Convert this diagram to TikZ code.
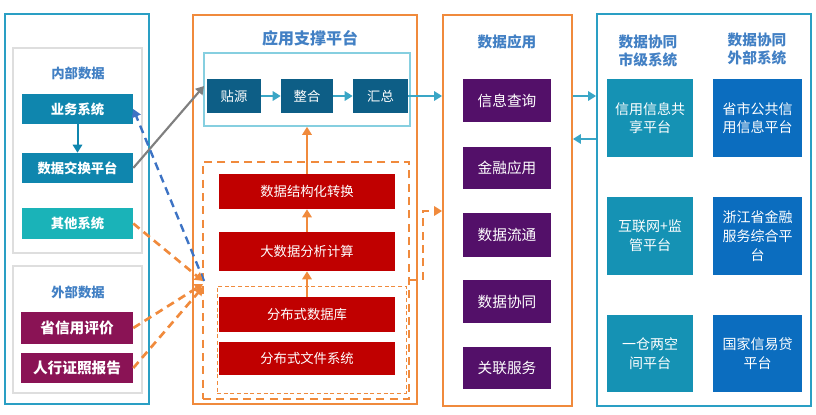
\documentclass[tikz,border=0pt]{standalone}
\usepackage{fontspec}
\setmainfont{Noto Sans CJK SC}
\usetikzlibrary{arrows.meta}
\definecolor{panelteal}{HTML}{2A9FC4}
\definecolor{orng}{HTML}{F08A3C}
\definecolor{grayb}{HTML}{DEDEDE}
\definecolor{titleblue}{HTML}{4280C4}
\definecolor{bizblue}{HTML}{0F86AE}
\definecolor{othersys}{HTML}{1AB3B8}
\definecolor{maroon}{HTML}{8A1355}
\definecolor{darkteal}{HTML}{0D5E86}
\definecolor{lightbb}{HTML}{86CFE0}
\definecolor{arrteal}{HTML}{3AA6C6}
\definecolor{redbox}{HTML}{C00000}
\definecolor{purp}{HTML}{531069}
\definecolor{rteal}{HTML}{1592B4}
\definecolor{rblue}{HTML}{0B6DBF}
\definecolor{grayarr}{HTML}{7F7F7F}
\definecolor{bluedash}{HTML}{3D73C4}
% \bx{name}{x1}{y1}{x2}{y2}{style}{text}
\newcommand\bx[7]{\node[#6, inner sep=0pt, minimum width={(#4-#2)*0.75pt}, minimum height={(#5-#3)*0.75pt}] (#1) at ({(#2+#4)/2},{(#3+#5)/2}) {#7};}
\tikzset{
  bx/.style={text=white, align=center, font=\fontsize{10}{12}\selectfont},
  bbx/.style={bx, font=\fontsize{10}{12}\selectfont\bfseries},
  panel/.style={draw, line width=1.3pt},
  grb/.style={draw=grayb, line width=1.5pt},
  ttl/.style={text=titleblue, font=\fontsize{10}{12}\selectfont\bfseries, align=center},
  tip/.style={-{Triangle[width=7pt,length=6pt]}},
  odash/.style={orng, line width=2pt, dash pattern=on 6pt off 4pt, tip},
  rb/.style={bx, font=\fontsize{10.5}{14}\selectfont},
  ab/.style={bx, fill=purp, font=\fontsize{11}{13}\selectfont},
  rd/.style={bx, fill=redbox},
}
\begin{document}
\begin{tikzpicture}[x=0.75pt,y=-0.75pt]
\useasboundingbox (0,0) rectangle (816,414);
% ---------- left panel
\bx{lp}{5}{14}{149}{404}{panel, draw=panelteal}{}
\bx{g1}{13}{48}{142}{253}{grb}{}
\node[ttl] (t1) at (78,73) {内部数据};
\bx{biz}{22}{94}{133}{124}{bbx, fill=bizblue}{业务系统}
\bx{dx}{22}{153}{133}{183}{bbx, fill=bizblue}{数据交换平台}
\bx{oth}{22}{208}{133}{239}{bbx, fill=othersys}{其他系统}
\bx{g2}{13}{266}{142}{393}{grb}{}
\node[ttl] (t2) at (78,292) {外部数据};
\bx{sx}{21}{312}{133}{344}{bbx, fill=maroon, font=\fontsize{11}{13}\selectfont\bfseries}{省信用评价}
\bx{rh}{21}{353}{133}{383}{bbx, fill=maroon, font=\fontsize{11}{13}\selectfont\bfseries}{人行证照报告}
\draw[tip, bizblue, line width=1.5pt] (biz.south) -- (dx.north);
% ---------- middle panel
\bx{mp}{193}{15}{417}{404}{panel, draw=orng}{}
\node[ttl, font=\fontsize{12}{14}\selectfont\bfseries] (t3) at (310,38) {应用支撑平台};
\bx{bi}{204}{53}{410}{126}{draw=lightbb, line width=1.2pt}{}
\bx{ty}{207}{79}{261}{113}{bx, fill=darkteal}{贴源}
\bx{zh}{281}{79}{333}{113}{bx, fill=darkteal}{整合}
\bx{hz}{353}{79}{408}{113}{bx, fill=darkteal}{汇总}
\draw[tip, arrteal, line width=1.5pt] (ty.east) -- (zh.west);
\draw[tip, arrteal, line width=1.5pt] (zh.east) -- (hz.west);
\bx{db}{203}{162}{409}{399}{draw=orng, line width=1.6pt, dash pattern=on 6pt off 4pt}{}
\bx{dbb}{217}{286}{406}{393}{draw=orng, line width=0.7pt, dash pattern=on 3pt off 2pt}{}
\bx{r1}{219}{174}{395}{209}{rd}{数据结构化转换}
\bx{r2}{219}{232}{395}{271}{rd}{大数据分析计算}
\bx{r3}{219}{297}{395}{332}{rd}{分布式数据库}
\bx{r4}{219}{342}{395}{375}{rd}{分布式文件系统}
\draw[tip, orng, line width=1.6pt] (r1.north) -- (r1.north |- bi.south);
\draw[tip, orng, line width=1.6pt] (r2.north) -- (r1.south);
\draw[tip, orng, line width=1.6pt] (r3.north) -- (r2.south);
% ---------- data application panel
\bx{ap}{443}{15}{572}{406}{panel, draw=orng}{}
\node[ttl, font=\fontsize{11}{13}\selectfont\bfseries] (t4) at (507,42) {数据应用};
\bx{a1}{463}{79}{551}{122}{ab}{信息查询}
\bx{a2}{463}{147}{551}{189}{ab}{金融应用}
\bx{a3}{463}{213}{551}{257}{ab}{数据流通}
\bx{a4}{463}{280}{551}{323}{ab}{数据协同}
\bx{a5}{463}{347}{551}{389}{ab}{关联服务}
% ---------- right panel
\bx{rp}{597}{14}{811}{406}{panel, draw=panelteal}{}
\node[ttl, font=\fontsize{11}{14}\selectfont\bfseries] (t5) at (648,51) {数据协同\\市级系统};
\node[ttl, font=\fontsize{11}{14}\selectfont\bfseries] (t6) at (757,49) {数据协同\\外部系统};
\bx{c1}{607}{79}{693}{157}{rb, fill=rteal}{信用信息共\\享平台}
\bx{c2}{607}{197}{693}{275}{rb, fill=rteal}{互联网+监\\管平台}
\bx{c3}{607}{315}{693}{392}{rb, fill=rteal}{一仓两空\\间平台}
\bx{e1}{713}{79}{802}{157}{rb, fill=rblue}{省市公共信\\用信息平台}
\bx{e2}{713}{197}{802}{275}{rb, fill=rblue}{浙江省金融\\服务综合平\\台}
\bx{e3}{713}{315}{802}{392}{rb, fill=rblue}{国家信易贷\\平台}
% ---------- connectors
\coordinate (ya) at (0,96);
\coordinate (yb) at (0,139);
\draw[tip, arrteal, line width=1.6pt] (hz.east |- ya) -- (ap.west |- ya);
\draw[tip, arrteal, line width=1.6pt] (ap.east |- ya) -- (rp.west |- ya);
\draw[tip, arrteal, line width=1.6pt] (rp.west |- yb) -- (ap.east |- yb);
\coordinate (k1) at (423,280);
\coordinate (k2) at (423,211);
\draw[odash] (k1 -| db.east) -- (k1) -- (k2) -- (k2 -| ap.west);
\coordinate (gt) at (204,86);
\draw[tip, grayarr, line width=1.6pt] (dx.east) -- (gt);
\coordinate (cv) at (204,281);
\coordinate (cv1) at (203,281);
\coordinate (cv2) at (203,284);
\coordinate (cv3) at (203,287);
\draw[tip, bluedash, line width=1.8pt, dash pattern=on 6pt off 4pt] (cv) -- (biz.east);
\draw[odash] (oth.east) -- (cv1);
\draw[odash] (sx.east) -- (cv2);
\draw[odash] (rh.east) -- (cv3);
\end{tikzpicture}
\end{document}
